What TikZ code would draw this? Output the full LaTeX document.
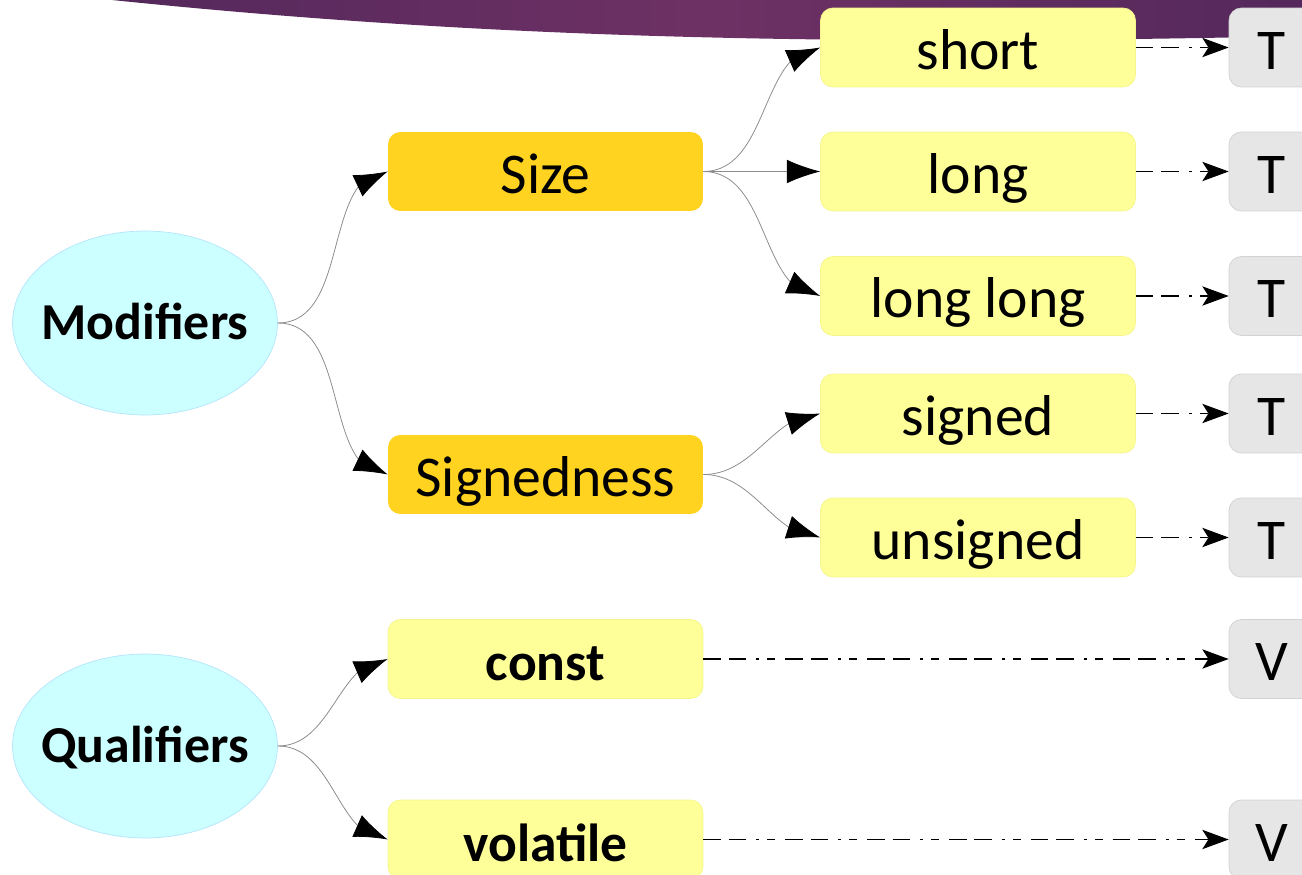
\documentclass[tikz,border=0pt]{standalone}
\usepackage{fontspec}
\setmainfont{Carlito}
\usetikzlibrary{arrows.meta,bending,shapes.geometric}

\definecolor{groupfill}{RGB}{204,255,255}
\definecolor{groupline}{RGB}{180,228,250}
\definecolor{catfill}{RGB}{255,211,32}
\definecolor{leaffill}{RGB}{255,255,153}
\definecolor{leafline}{RGB}{245,245,140}
\definecolor{tfill}{RGB}{230,230,230}
\definecolor{tline}{RGB}{210,210,210}
\definecolor{banddark}{RGB}{84,40,92}
\definecolor{bandmid}{RGB}{110,49,100}

\begin{document}
\begin{tikzpicture}[x=0.02cm,y=-0.02cm]
\tikzstyle{headnode}=[ellipse, fill=groupfill, draw=groupline, minimum width=5.3cm, minimum height=3.68cm, inner sep=0pt, inner xsep=-6.6pt, text height=26pt, text depth=6.7pt, font=\bfseries\fontsize{29.5}{36}\selectfont]
\tikzstyle{catbox}=[rectangle, rounded corners=7pt, fill=catfill, minimum width=6.3cm, minimum height=1.58cm, inner sep=0pt, text height=30pt, text depth=5pt, font=\fontsize{32.8}{38}\selectfont]
\tikzstyle{leafbox}=[catbox, fill=leaffill, draw=leafline]
\tikzstyle{tbox}=[catbox, fill=tfill, draw=tline, minimum width=1.72cm]
\tikzstyle{connect}=[-{Latex[flex,length=19pt,width=13.5pt,black]}, draw=black!45, line width=0.45pt, out=0, in=180, in looseness=0.9]
\tikzstyle{dashto}=[-{Stealth[length=15pt,width=11pt,inset=3.5pt]}, line width=0.6pt, dash pattern=on 10pt off 4.5pt on 10pt off 5.7pt on 1.7pt off 4.5pt on 4.5pt off 5.7pt]
  \useasboundingbox (0,0) rectangle (1302,875);
  \clip (0,0) rectangle (1302,875);
  % band at the top
  \shade[left color=banddark, right color=banddark, middle color=bandmid]
    (112,0) .. controls (500,40) and (850,46) .. (1302,36) -- (1302,0) -- cycle;
  % groups
  \node[headnode] (mods) at (145,323) {Modifiers};
  \node[headnode] (quals) at (145,746) {Qualifiers};
  \node[catbox] (size) at (545.5,171.5) {Size};
  \node[catbox] (sign) at (545.5,474.5) {Signedness};
  \node[leafbox, font=\bfseries\fontsize{30.5}{36}\selectfont] (const) at (545.5,659) {const};
  \node[leafbox, font=\bfseries\fontsize{30.5}{36}\selectfont] (volatile) at (545.5,839.5) {volatile};
  % words
  \node[leafbox] (short) at (978,47.5) {short};
  \node[leafbox] (long) at (978,171.5) {long};
  \node[leafbox] (longlong) at (978,296) {long long};
  \node[leafbox] (signed) at (978,413.5) {signed};
  \node[leafbox] (unsigned) at (978,537.5) {unsigned};
  % type and variable boxes
  \node[tbox] (tshort) at (1272,47.5) {T};
  \node[tbox] (tlong) at (1272,171.5) {T};
  \node[tbox] (tlonglong) at (1272,296) {T};
  \node[tbox] (tsigned) at (1272,413.5) {T};
  \node[tbox] (tunsigned) at (1272,537.5) {T};
  \node[tbox] (vconst) at (1272,659) {V};
  \node[tbox] (vvolatile) at (1272,839.5) {V};
  \path (mods) edge [connect] (size)
        (mods) edge [connect] (sign)
        (quals) edge [connect] (const)
        (quals) edge [connect] (volatile)
        (size) edge [connect] (short)
        (size) edge [connect] (long)
        (size) edge [connect] (longlong)
        (sign) edge [connect] (signed)
        (sign) edge [connect] (unsigned);
  \path (short) edge [dashto] (tshort)
        (long) edge [dashto] (tlong)
        (longlong) edge [dashto] (tlonglong)
        (signed) edge [dashto] (tsigned)
        (unsigned) edge [dashto] (tunsigned)
        (const) edge [dashto] (vconst)
        (volatile) edge [dashto] (vvolatile);
\end{tikzpicture}
\end{document}
